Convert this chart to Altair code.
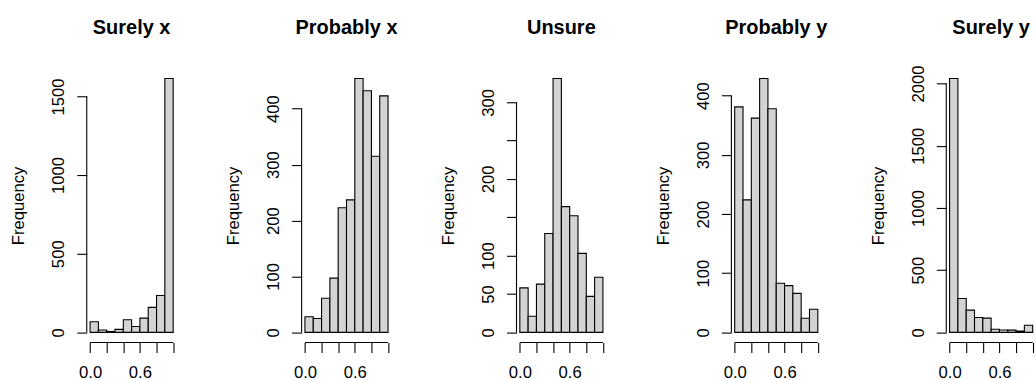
import altair as alt
import pandas as pd

titles = ["Surely x", "Probably x", "Unsure", "Probably y", "Surely y"]
bin_edges = [0.0, 0.1, 0.2, 0.3, 0.4, 0.5, 0.6, 0.7, 0.8, 0.9, 1.0]
counts_surely_x = [68, 15, 6, 19, 80, 38, 91, 159, 235, 1614]
counts_probably_x = [28, 25, 61, 97, 223, 237, 454, 432, 315, 423]
counts_unsure = [58, 21, 63, 129, 331, 164, 152, 103, 47, 72]
counts_probably_y = [381, 224, 362, 429, 378, 83, 79, 66, 24, 39]
counts_surely_y = [2040, 273, 179, 120, 115, 25, 19, 18, 10, 57]
all_counts = [counts_surely_x, counts_probably_x, counts_unsure, counts_probably_y, counts_surely_y]
y_ticks = [
    [0, 500, 1000, 1500],
    [0, 100, 200, 300, 400],
    [0, 50, 100, 150, 200, 250, 300],
    [0, 100, 200, 300, 400],
    [0, 500, 1000, 1500, 2000],
]
y_unlabeled = [[], [], [150, 250], [], []]
x_ticks = [0.0, 0.2, 0.4, 0.6, 0.8, 1.0]
x_labeled = [0.0, 0.6]

FONT = "Liberation Sans"
FS = 16.7
W, H = 90, 275
TITLE_OFFSET = 14.7


def panel(title, counts, yt, yhide):
    ymax = max(counts)
    lo_d, hi_d = -0.04 * ymax, 1.04 * ymax
    # how far the rotated top tick label sticks out above the plot area
    top_px = H * (hi_d - yt[-1]) / (hi_d - lo_d)
    half_len = len(str(yt[-1])) * 0.556 * FS / 2
    overhang = max(0.0, half_len - top_px)
    df = pd.DataFrame({"lo": bin_edges[:-1], "hi": bin_edges[1:], "n": counts})
    xs = alt.Scale(domain=[-0.04, 1.04], nice=False, zero=False)
    ys = alt.Scale(domain=[lo_d, hi_d], nice=False, zero=False)
    x_axis = alt.Axis(
        values=x_ticks, domain=False, grid=False, tickSize=10, tickColor="black",
        tickWidth=1.1, labelExpr="indexof(%s, datum.value) >= 0 ? format(datum.value, '.1f') : ''" % str(x_labeled),
        labelFont=FONT, labelFontSize=FS, labelColor="black", labelBaseline="alphabetic",
        labelPadding=24.6, labelFlush=False, labelOverlap=False, title="",
    )
    y_axis = alt.Axis(
        values=yt, domain=False, grid=False, tickSize=10, tickColor="black", tickWidth=1.1,
        labelExpr="indexof(%s, datum.value) >= 0 ? '' : format(datum.value, 'd')" % str(yhide),
        labelFont=FONT, labelFontSize=FS, labelColor="black", labelAngle=270,
        labelAlign="center", labelBaseline="alphabetic", labelPadding=13,
        labelFlush=False, labelOverlap=False,
        title="Frequency", titleFont=FONT, titleFontSize=FS, titleFontWeight="normal",
        titleColor="black", titleAngle=270, titleX=-63, titleY=H / 2,
        titleAlign="center", titleBaseline="alphabetic",
    )
    bars = alt.Chart(df).mark_rect(fill="#D3D3D3", stroke="black", strokeWidth=1.1).encode(
        x=alt.X("lo:Q", scale=xs, axis=x_axis),
        x2="hi:Q",
        y=alt.Y("n:Q", scale=ys, axis=y_axis),
        y2=alt.datum(0),
    )
    xline = alt.Chart(pd.DataFrame({"lo": [x_ticks[0]], "hi": [x_ticks[-1]]})).mark_rule(
        color="black", strokeWidth=1.1
    ).encode(x=alt.X("lo:Q", scale=xs, axis=x_axis), x2="hi:Q", y=alt.value(H))
    yline = alt.Chart(pd.DataFrame({"n": [yt[0]], "m": [yt[-1]]})).mark_rule(
        color="black", strokeWidth=1.1
    ).encode(y=alt.Y("n:Q", scale=ys, axis=y_axis), y2="m:Q", x=alt.value(0))
    return alt.layer(bars, xline, yline).properties(
        width=W, height=H,
        title=alt.TitleParams(
            title, font=FONT, fontSize=20, fontWeight="bold", color="black",
            anchor="middle", frame="group", baseline="alphabetic",
            offset=TITLE_OFFSET - overhang,
        ),
    )


panels = [panel(t, c, yt, yh) for t, c, yt, yh in zip(titles, all_counts, y_ticks, y_unlabeled)]
chart = alt.hconcat(*panels, spacing=125.5, bounds="flush").properties(
    padding={"left": 11, "top": 17, "right": 0, "bottom": 0},
    background="white",
).configure_view(strokeWidth=0)

chart.save("out.html", embed_options={"renderer": "svg", "actions": False})
